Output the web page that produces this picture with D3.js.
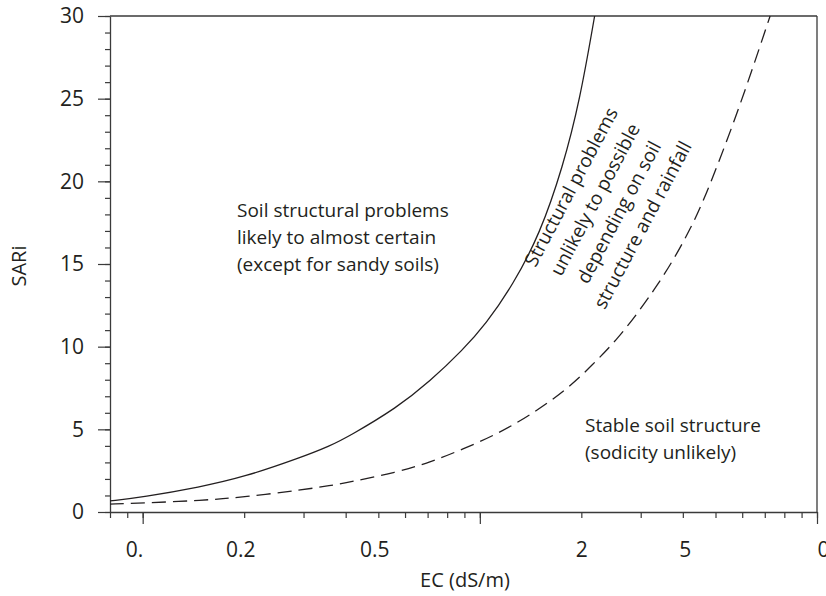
<!DOCTYPE html>
<html>
<head>
<meta charset="utf-8">
<script src="https://cdn.jsdelivr.net/npm/d3@7"></script>
<style>
  html, body { margin: 0; padding: 0; background: #fff; }
  svg { display: block; }
  text { font-family: "Open Sans", "Noto Sans", sans-serif; fill: #231f20; }
</style>
</head>
<body>
<div id="chart"></div>
<script>
// ---------------- data ----------------
const ecSolid   = [0.08, 0.1, 0.148, 0.2, 0.292, 0.359, 0.411, 0.567, 0.711, 0.89, 1.042, 1.253, 1.507, 1.763, 1.981, 2.19];
const sariSolid = [0.67, 0.9, 1.51, 2.12, 3.27, 3.99, 4.6, 6.3, 7.9, 9.8, 11.37, 13.73, 16.81, 20.87, 24.92, 30];

const ecDashed   = [0.08, 0.1, 0.15, 0.2, 0.3, 0.36, 0.41, 0.567, 0.711, 0.89, 1.123, 1.41, 1.81, 2.16, 2.57, 2.98, 3.37, 3.79, 4.2, 4.59, 5.79, 7.26];
const sariDashed = [0.48, 0.54, 0.7, 0.9, 1.35, 1.6, 1.8, 2.4, 3.0, 3.8, 4.7, 5.85, 7.4, 8.9, 10.5, 12.2, 13.75, 15.4, 17.1, 18.7, 24.0, 30];

const xDomain = [0.08, 10];
const yDomain = [0, 30];
const xMinorTicks = [0.08, 0.09, 0.1, 0.2, 0.3, 0.4, 0.5, 0.6, 0.7, 0.8, 0.9, 1, 2, 3, 4, 5, 6, 7, 8, 9, 10];
const xMajorTicks = [0.1, 1, 10];
const xLabelValues = [0.1, 0.2, 0.5, 2, 4, 10];
const xLabelTexts  = ["0.", "0.2", "0.5", "2", "5", "0"];
const yMinorTicks = d3.range(0, 31, 1);
const yMajorTicks = [0, 5, 10, 15, 20, 25, 30];

const xTitle = "EC (dS/m)";
const yTitle = "SARi";
const noteLeft   = ["Soil structural problems", "likely to almost certain", "(except for sandy soils)"];
const noteMiddle = ["Structural problems", "unlikely to possible", "depending on soil", "structure and rainfall"];
const noteRight  = ["Stable soil structure", "(sodicity unlikely)"];

// ---------------- layout ----------------
const W = 826, H = 596;
const m = { left: 110, right: 9, top: 16, bottom: 84 };
const svg = d3.select("#chart").append("svg").attr("width", W).attr("height", H);

const x = d3.scaleLog().domain(xDomain).range([m.left, W - m.right]);
const y = d3.scaleLinear().domain(yDomain).range([H - m.bottom, m.top]);

const ink = "#231f20";
const axisColor = "#3a3a3a";

function styleAxis(g) {
  g.selectAll(".domain").attr("stroke", axisColor).attr("stroke-width", 1.3);
  g.selectAll(".tick line").attr("stroke", axisColor).attr("stroke-width", 1.2);
  g.selectAll("text").attr("fill", ink).style("font-family", '"Open Sans", sans-serif');
}

// X axis: minor ticks + domain
svg.append("g").attr("transform", `translate(0,${y(0)})`)
  .call(d3.axisBottom(x).tickValues(xMinorTicks).tickSize(6).tickSizeOuter(0).tickFormat(""))
  .call(styleAxis);
// X axis: long ticks
svg.append("g").attr("transform", `translate(0,${y(0)})`)
  .call(d3.axisBottom(x).tickValues(xMajorTicks).tickSize(12).tickSizeOuter(0).tickFormat(""))
  .call(g => g.select(".domain").remove())
  .call(styleAxis);
// X axis labels
const xl = svg.append("g").attr("transform", `translate(0,${y(0)})`)
  .call(d3.axisBottom(x).tickValues(xLabelValues).tickSize(0).tickPadding(30)
        .tickFormat((d, i) => xLabelTexts[i]))
  .call(g => g.select(".domain").remove())
  .call(g => g.selectAll(".tick line").remove())
  .call(styleAxis);
xl.selectAll("text").style("font-size", "21px")
  .attr("text-anchor", (d, i) => i === 0 ? "end" : (i === xLabelValues.length - 1 ? "start" : "middle"))
  .attr("dx", (d, i) => (i === 1 || i === 2) ? -4 : (i === 4 ? 2 : 0));

// Y axis: minor ticks
svg.append("g").attr("transform", `translate(${m.left},0)`)
  .call(d3.axisLeft(y).tickValues(yMinorTicks).tickSize(5).tickSizeOuter(0).tickFormat(""))
  .call(styleAxis);
// Y axis: major ticks + labels
const yl = svg.append("g").attr("transform", `translate(${m.left},0)`)
  .call(d3.axisLeft(y).tickValues(yMajorTicks).tickSize(12).tickPadding(14).tickFormat(d3.format("d")))
  .call(g => g.select(".domain").remove())
  .call(styleAxis);
yl.selectAll("text").style("font-size", "21px");

// frame (top and right)
svg.append("line").attr("x1", x(xDomain[0])).attr("x2", x(xDomain[1]))
  .attr("y1", y(yDomain[1])).attr("y2", y(yDomain[1]))
  .attr("stroke", axisColor).attr("stroke-width", 1.3);
svg.append("line").attr("x1", x(xDomain[1])).attr("x2", x(xDomain[1]))
  .attr("y1", y(yDomain[1])).attr("y2", y(yDomain[0]))
  .attr("stroke", axisColor).attr("stroke-width", 1.3);

// curves
const line = d3.line().x(d => x(d[0])).y(d => y(d[1])).curve(d3.curveBasis);
svg.append("path").datum(ecSolid.map((e, i) => [e, sariSolid[i]]))
  .attr("d", line).attr("fill", "none").attr("stroke", ink).attr("stroke-width", 1.3);
svg.append("path").datum(ecDashed.map((e, i) => [e, sariDashed[i]]))
  .attr("d", line).attr("fill", "none").attr("stroke", ink).attr("stroke-width", 1.3)
  .attr("stroke-dasharray", "14,7");

// axis titles
svg.append("text").attr("x", 465).attr("y", 587)
  .attr("text-anchor", "middle").style("font-size", "20px").text(xTitle);
svg.append("text").attr("transform", `translate(26,${(y(0) + y(30)) / 2 + 2}) rotate(-90)`)
  .attr("text-anchor", "middle").style("font-size", "20px").text(yTitle);

// annotations
const fs = "19px", lh = 27;
const t1 = svg.append("text").attr("x", 237).attr("y", 217).style("font-size", fs);
noteLeft.forEach((s, i) => t1.append("tspan").attr("x", 237).attr("dy", i ? lh : 0).text(s));

const g2 = svg.append("g").attr("transform", "translate(577,190) rotate(-62)");
const t2 = g2.append("text").attr("text-anchor", "middle").style("font-size", fs);
noteMiddle.forEach((s, i) => t2.append("tspan").attr("x", 0).attr("dy", i ? lh : 0).text(s));

const t3 = svg.append("text").attr("x", 585).attr("y", 432).style("font-size", fs);
noteRight.forEach((s, i) => t3.append("tspan").attr("x", 585).attr("dy", i ? lh : 0).text(s));
</script>
</body>
</html>
